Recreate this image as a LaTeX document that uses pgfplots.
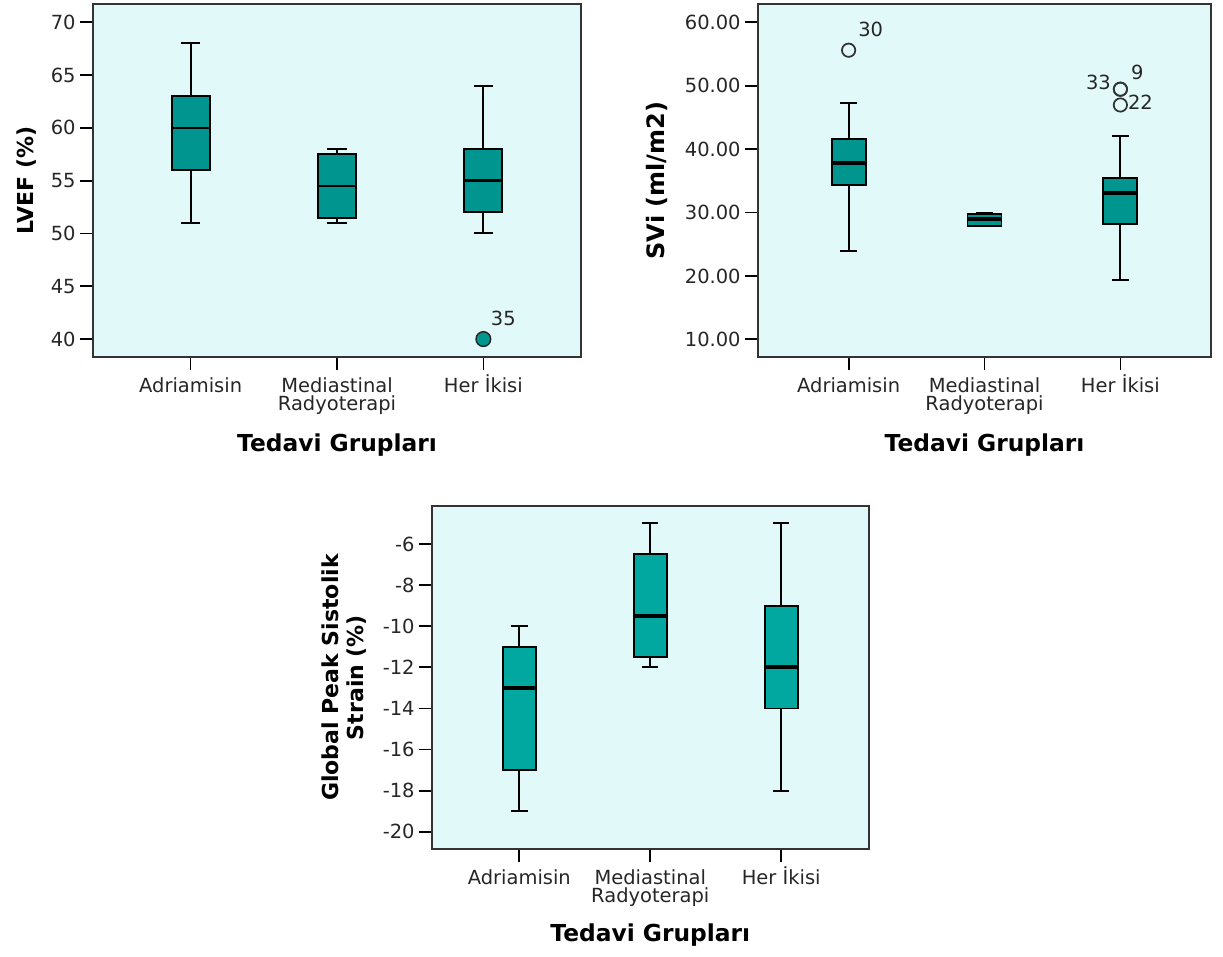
\documentclass[border=0pt]{standalone}
\usepackage{pgfplots}
\pgfplotsset{compat=1.18}
\usepackage{fontspec}
\setmainfont{DejaVu Sans}
\definecolor{bg}{HTML}{E2F9FA}
\definecolor{boxA}{HTML}{00968F}
\definecolor{boxB}{HTML}{00A8A0}
\definecolor{frm}{HTML}{333333}
\pgfplotsset{
  spss/.style={
    scale only axis,
    anchor=north west,
    axis background/.style={fill=bg},
    axis line style={draw=frm, line width=1.5pt},
    xmin=0.333, xmax=3.667,
    xtick={1,2,3},
    xticklabels={{\vphantom{İ}Adriamisin}, {\vphantom{İ}Mediastinal\\Radyoterapi}, Her İkisi},
    xtick pos=bottom, ytick pos=left,
    tick align=outside,
    major tick length=9.5pt,
    tick style={black, line width=1.3pt},
    ticklabel style={font=\fontsize{14.6}{13.5}\selectfont, text=black!85},
    xticklabel style={align=center},
    /pgf/number format/assume math mode=true,
    xlabel={Tedavi Grupları},
    xlabel style={font=\fontsize{17.5}{19}\selectfont\bfseries, at={(axis description cs:0.5,-0.249)}, anchor=center},
  },
  wh/.style={black, line width=1.5pt, mark=none, forget plot},
  bxs/.style={draw=black, line width=1.4pt, mark=none, forget plot},
  medthin/.style={black, line width=1.8pt, mark=none, forget plot},
  medthick/.style={black, line width=3pt, mark=none, forget plot},
}
% #1 position, #2 half box width, #3 lower whisker, #4 Q1, #5 median, #6 Q3, #7 upper whisker, #8 fill, #9 median style
\newcommand\bxp[9]{%
  \pgfmathsetmacro\bxl{#1-#2}\pgfmathsetmacro\bxr{#1+#2}%
  \pgfmathsetmacro\cpl{#1-#2/2}\pgfmathsetmacro\cpr{#1+#2/2}%
  \addplot[wh] coordinates {(#1,#6)(#1,#7)};
  \addplot[wh] coordinates {(\cpl,#7)(\cpr,#7)};
  \addplot[wh] coordinates {(#1,#4)(#1,#3)};
  \addplot[wh] coordinates {(\cpl,#3)(\cpr,#3)};
  \addplot[bxs, fill=#8] coordinates {(\bxl,#4)(\bxr,#4)(\bxr,#6)(\bxl,#6)} -- cycle;
  \addplot[#9] coordinates {(\bxl,#5)(\bxr,#5)};
}
\begin{document}
\begin{tikzpicture}
\useasboundingbox (0,0) rectangle (917.25pt,-717pt);
% ---------------- LVEF ----------------
\begin{axis}[spss, at={(69.75pt,-3pt)}, width=366pt, height=264.75pt,
  ymin=38.3, ymax=71.73, ytick={40,45,50,55,60,65,70},
  ylabel={LVEF (\%)},
  ylabel style={font=\fontsize{16.5}{18}\selectfont\bfseries, at={(axis description cs:-0.137,0.5)}, anchor=center},
]
\bxp{1}{0.13}{51}{56}{60}{63}{68}{boxA}{medthin}
\bxp{2}{0.13}{51}{51.5}{54.5}{57.5}{58}{boxA}{medthin}
\bxp{3}{0.13}{50}{52}{55}{58}{64}{boxA}{medthin}
\addplot[only marks, mark=*, mark size=5.5pt, mark options={fill=boxA, draw=black!85, line width=1.1pt}] coordinates {(3,40)};
\node[font=\fontsize{14.6}{14}\selectfont, text=black!85] at (axis cs:3,40) [xshift=15pt, yshift=15.75pt] {35};
\end{axis}
% ---------------- SVi ----------------
\begin{axis}[spss, at={(568.5pt,-3pt)}, width=339.75pt, height=264.75pt,
  ymin=7.21, ymax=62.89, ytick={10,20,30,40,50,60},
  yticklabels={10.00,20.00,30.00,40.00,50.00,60.00},
  ylabel={SVi (ml/m2)},
  ylabel style={font=\fontsize{18}{19}\selectfont\bfseries, at={(axis description cs:-0.223,0.5)}, anchor=center},
]
\bxp{1}{0.125}{23.93}{34.34}{37.76}{41.55}{47.2}{boxA}{medthick}
\bxp{2}{0.125}{27.88}{27.9}{28.93}{29.7}{29.98}{boxA}{medthick}
\bxp{3}{0.125}{19.36}{28.2}{33.03}{35.4}{42.1}{boxA}{medthick}
\addplot[only marks, mark=o, mark size=5pt, mark options={draw=black!80, line width=1.3pt}] coordinates {(1,55.6) (3,49.45) (3,49.45) (3,46.96)};
\begin{scope}[every node/.style={font=\fontsize{14.6}{14}\selectfont, text=black!85}]
\node at (axis cs:1,55.6) [xshift=16.5pt, yshift=15.75pt] {30};
\node at (axis cs:3,49.45) [xshift=-16.5pt, yshift=4.9pt] {33};
\node at (axis cs:3,49.45) [xshift=12.75pt, yshift=12.75pt] {9};
\node at (axis cs:3,46.96) [xshift=15pt, yshift=1.9pt] {22};
\end{scope}
\end{axis}
% ---------------- Strain ----------------
\begin{axis}[spss, at={(324pt,-379.5pt)}, width=327.4pt, height=257.25pt,
  ymin=-20.84, ymax=-4.15, ytick={-20,-18,-16,-14,-12,-10,-8,-6},
  yticklabels={-20,-18,-16,-14,-12,-10,-8,-6},
  ylabel={Global Peak Sistolik\\Strain (\%)},
  ylabel style={font=\fontsize{16.5}{18.75}\selectfont\bfseries, align=center, at={(axis description cs:-0.2016,0.5)}, anchor=center},
  xlabel style={at={(axis description cs:0.5,-0.251)}},
]
\bxp{1}{0.125}{-19}{-17}{-13}{-11}{-10}{boxB}{medthick}
\bxp{2}{0.125}{-12}{-11.5}{-9.5}{-6.5}{-5}{boxB}{medthick}
\bxp{3}{0.125}{-18}{-14}{-12}{-9}{-5}{boxB}{medthick}
\end{axis}
\end{tikzpicture}
\end{document}
